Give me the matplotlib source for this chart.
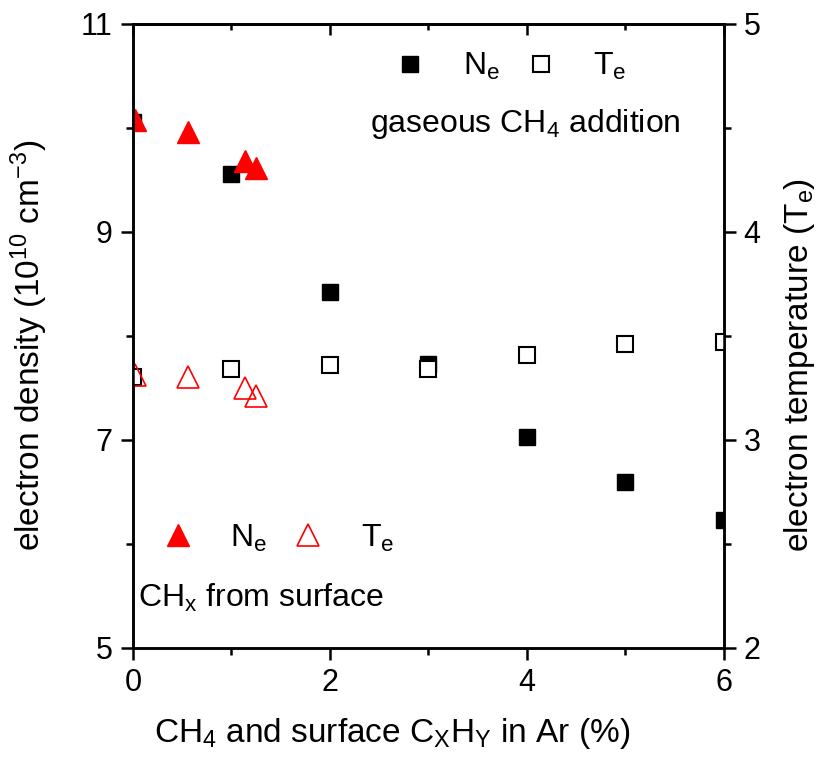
import matplotlib

matplotlib.use("Agg")
import matplotlib.pyplot as plt
from matplotlib.lines import Line2D
from matplotlib.ticker import FixedLocator, MultipleLocator

plt.rcParams["font.family"] = "Liberation Sans"
plt.rcParams["mathtext.fontset"] = "custom"
plt.rcParams["mathtext.rm"] = "Liberation Sans"
plt.rcParams["mathtext.it"] = "Liberation Sans:italic"
plt.rcParams["mathtext.bf"] = "Liberation Sans:bold"

# gaseous CH4 added to the Ar discharge
ch4_pct = [0, 1, 2, 3, 4, 5, 6]
ch4_density = [10.06, 9.56, 8.42, 7.73, 7.03, 6.59, 6.23]
ch4_temp = [3.30, 3.34, 3.36, 3.34, 3.41, 3.46, 3.47]

# CHx released from the surface
surf_pct = [0.02, 0.56, 1.14, 1.25]
surf_density = [10.08, 9.96, 9.68, 9.61]
surf_temp = [3.31, 3.30, 3.25, 3.21]

density_ticks = [5, 7, 9, 11]
density_minor = [6, 8, 10]

SQ = 11.5
TRI = 15.5
LW = 1.8

fig = plt.figure(figsize=(8.22, 7.59), dpi=100)
ax = fig.add_axes([0.1618, 0.1466, 0.7185, 0.8218])
ax2 = ax.twinx()

ax.plot(ch4_pct, ch4_density, ls="none", marker="s", ms=SQ, color="black")
ax.plot(surf_pct, surf_density, ls="none", marker="^", ms=TRI, color="red")
ax2.plot(ch4_pct, ch4_temp, ls="none", marker="s", ms=SQ - 0.5,
         mfc="white", mec="black", mew=1.5)
ax2.plot(surf_pct, surf_temp, ls="none", marker="^", ms=TRI,
         mfc="none", mec="red", mew=1.2)

ax.set_xlim(0, 6)
ax.set_ylim(5, 11)
ax2.set_ylim(2, 5)

ax.xaxis.set_major_locator(MultipleLocator(2))
ax.xaxis.set_minor_locator(MultipleLocator(1))
ax.yaxis.set_major_locator(FixedLocator(density_ticks))
ax.yaxis.set_minor_locator(FixedLocator(density_minor))
ax2.yaxis.set_major_locator(MultipleLocator(1))
ax2.yaxis.set_minor_locator(MultipleLocator(0.5))

for a in (ax, ax2):
    a.tick_params(which="major", direction="out", length=8.5, width=LW,
                  labelsize=22, pad=6)
    a.tick_params(which="minor", direction="out", length=5, width=LW)
    for s in a.spines.values():
        s.set_linewidth(LW)
ax.tick_params(which="both", top=False, right=False)
ax2.tick_params(which="both", left=False, right=True)

# top axis: inward ticks, no labels
top = ax.secondary_xaxis("top")
top.xaxis.set_major_locator(MultipleLocator(2))
top.xaxis.set_minor_locator(MultipleLocator(1))
top.tick_params(which="major", direction="in", length=8, width=LW, labeltop=False)
top.tick_params(which="minor", direction="in", length=4.5, width=LW)
top.spines["top"].set_linewidth(LW)

ax.set_xlabel(r"CH$_\mathregular{4}$ and surface C$_\mathregular{X}$H$_\mathregular{Y}$ in Ar (%)",
              fontsize=24)
ax.set_ylabel(r"electron density (10$^\mathregular{10}$ cm$^\mathregular{-3}$)", fontsize=24)
ax2.set_ylabel(r"electron temperature (T$_\mathregular{e}$)", fontsize=24)
ax.xaxis.set_label_coords(0.438, -0.11)
ax.yaxis.set_label_coords(-0.1405, 0.484)
ax2.yaxis.set_label_coords(1.099, 0.453)

leg_kw = dict(ncol=2, frameon=False, fontsize=23, handlelength=1.0,
              handletextpad=1.15, columnspacing=0.78, borderpad=0,
              borderaxespad=0, numpoints=1, loc="center left")

gas_handles = [
    Line2D([], [], ls="none", marker="s", ms=SQ, color="black"),
    Line2D([], [], ls="none", marker="s", ms=SQ - 0.5, mfc="white", mec="black", mew=1.5),
]
surf_handles = [
    Line2D([], [], ls="none", marker="^", ms=TRI, color="red"),
    Line2D([], [], ls="none", marker="^", ms=TRI, mfc="none", mec="red", mew=1.2),
]
labels = [r"N$_\mathregular{e}$", r"T$_\mathregular{e}$"]

leg1 = ax2.legend(gas_handles, labels, bbox_to_anchor=(0.442, 0.9315), **leg_kw)
ax2.add_artist(leg1)
ax2.legend(surf_handles, labels, bbox_to_anchor=(0.0486, 0.176), **leg_kw)

ax2.text(0.401, 0.827, r"gaseous CH$_\mathregular{4}$ addition", transform=ax2.transAxes,
         fontsize=23, va="baseline", ha="left")
ax2.text(0.0085, 0.0657, r"CH$_\mathregular{x}$ from surface", transform=ax2.transAxes,
         fontsize=23, va="baseline", ha="left")

fig.savefig("out.png", dpi=100)
plt.close(fig)
